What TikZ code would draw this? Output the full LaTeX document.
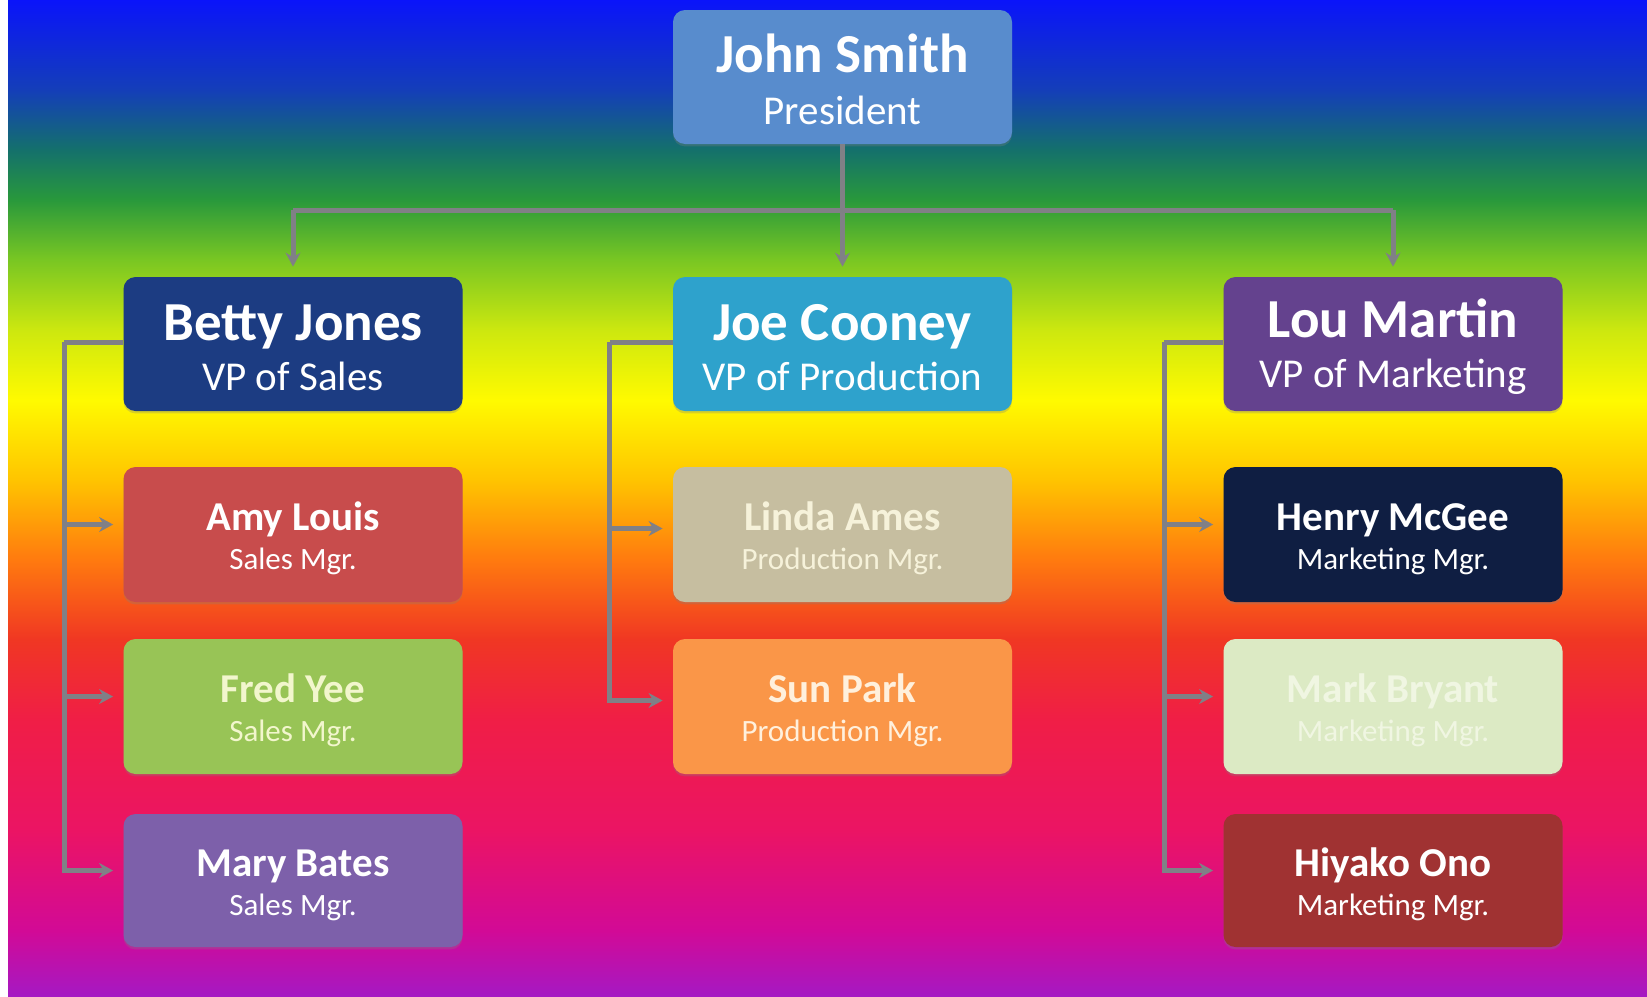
\documentclass[tikz,border=0pt]{standalone}
\usepackage{fontspec}
\setmainfont{Carlito}
\usetikzlibrary{calc,positioning,arrows.meta,shadows}

% background colours, top to bottom
\definecolor{bgblue}{RGB}{10,20,250}
\definecolor{bgnavy}{RGB}{20,62,185}
\definecolor{bgteal}{RGB}{20,112,108}
\definecolor{bggreen}{RGB}{40,152,60}
\definecolor{bglime}{RGB}{120,198,35}
\definecolor{bgyelgreen}{RGB}{205,232,15}
\definecolor{bgyellow}{RGB}{255,250,0}
\definecolor{bggold}{RGB}{255,196,0}
\definecolor{bgorange}{RGB}{255,122,15}
\definecolor{bgred}{RGB}{240,55,35}
\definecolor{bgrose}{RGB}{240,30,70}
\definecolor{bgpink}{RGB}{235,20,100}
\definecolor{bgmagenta}{RGB}{210,10,150}
\definecolor{bgpurple}{RGB}{165,25,195}

% box colours
\definecolor{presblue}{RGB}{88,140,205}
\definecolor{salesblue}{RGB}{28,60,130}
\definecolor{prodcyan}{RGB}{46,162,204}
\definecolor{mktpurple}{RGB}{100,66,142}
\definecolor{amyred}{RGB}{200,76,76}
\definecolor{fredgreen}{RGB}{152,196,86}
\definecolor{maryviolet}{RGB}{125,96,170}
\definecolor{lindabeige}{RGB}{198,190,160}
\definecolor{sunorange}{RGB}{250,150,72}
\definecolor{henrynavy}{RGB}{15,30,66}
\definecolor{palegreen}{RGB}{220,234,196}
\definecolor{hiyakored}{RGB}{160,50,50}
\definecolor{linkgray}{RGB}{128,128,134}

\pgfdeclareverticalshading{rainbowbg}{100bp}{color(0bp)=(bgpurple); color(25bp)=(bgpurple); color(28.3bp)=(bgmagenta); color(33.3bp)=(bgpink); color(38.9bp)=(bgrose); color(42.9bp)=(bgred); color(46.9bp)=(bgorange); color(50.9bp)=(bggold); color(54.9bp)=(bgyellow); color(58.4bp)=(bgyelgreen); color(62bp)=(bglime); color(65bp)=(bggreen); color(67.5bp)=(bgteal); color(70.5bp)=(bgnavy); color(75bp)=(bgblue); color(100bp)=(bgblue)}

\newcommand{\vpname}[1]{\rule{0pt}{22pt}#1}
\newcommand{\mgrname}[1]{\rule{0pt}{18.2pt}#1}
\newcommand{\vptitle}[1]{{\fontsize{20.5}{24}\mdseries\selectfont #1}}
\newcommand{\mgrtitle}[1]{{\fontsize{15.5}{18}\mdseries\selectfont #1}}

\tikzset{orgbox/.style={rectangle,rounded corners=6pt,minimum width=169.5pt,
minimum height=67pt,inner sep=0pt,align=center,text=white,
drop shadow={shadow xshift=0pt,shadow yshift=-1.2pt,opacity=0.3}},
vpbox/.style={orgbox,font=\fontsize{27.5}{25}\bfseries\selectfont},
mgrbox/.style={orgbox,minimum height=67.5pt,font=\fontsize{20.5}{19.3}\bfseries\selectfont}}
\tikzstyle{conn}      = [draw=linkgray,line width=2.5pt]
\tikzstyle{arrow}     = [-{Stealth[length=7pt,width=7.5pt]},shorten >=5pt]

\begin{document}
\begin{tikzpicture}[x=0.5pt,y=-0.5pt]
		\useasboundingbox (0,0) rectangle (1647,996);
		\fill[white] (0,0) rectangle (1647,996);
		\shade[shading=rainbowbg] (8,0) rectangle (1647,996);

		% top and vice presidents
		\node[vpbox,fill=presblue,font=\fontsize{27.5}{26}\bfseries\selectfont] (john) at (842.5,77) {\vpname{John Smith}\\\vptitle{President}};
		\node[vpbox,fill=salesblue] (betty) at (293,344) {\vpname{Betty Jones}\\\vptitle{VP of Sales}};
		\node[vpbox,fill=prodcyan] (joe) at (842.5,344) {\vpname{Joe Cooney}\\\vptitle{VP of Production}};
		\node[vpbox,fill=mktpurple] (lou) at (1393,344) {\vpname{Lou Martin}\\\vptitle{VP of Marketing}};

		% managers
		\node[mgrbox,fill=amyred] (amy) at (293,534.5) {\mgrname{Amy Louis}\\\mgrtitle{Sales Mgr.}};
		\node[mgrbox,fill=fredgreen,text={rgb,255:red,242;green,246;blue,205}] (fred) at (293,706.5) {\mgrname{Fred Yee}\\\mgrtitle{Sales Mgr.}};
		\node[mgrbox,fill=maryviolet,minimum height=66.5pt] (mary) at (293,880.5) {\mgrname{Mary Bates}\\\mgrtitle{Sales Mgr.}};
		\node[mgrbox,fill=lindabeige,text={rgb,255:red,246;green,242;blue,218}] (linda) at (842.5,534.5) {\mgrname{Linda Ames}\\\mgrtitle{Production Mgr.}};
		\node[mgrbox,fill=sunorange,text={rgb,255:red,255;green,240;blue,220}] (sun) at (842.5,706.5) {\mgrname{Sun Park}\\\mgrtitle{Production Mgr.}};
		\node[mgrbox,fill=henrynavy] (henry) at (1393,534.5) {\mgrname{Henry McGee}\\\mgrtitle{Marketing Mgr.}};
		\node[mgrbox,fill=palegreen,text={rgb,255:red,240;green,246;blue,226}] (mark) at (1393,706.5) {\mgrname{Mark Bryant}\\\mgrtitle{Marketing Mgr.}};
		\node[mgrbox,fill=hiyakored,minimum height=66.5pt] (hiyako) at (1393,880.5) {\mgrname{Hiyako Ono}\\\mgrtitle{Marketing Mgr.}};

		% connectors from the president
		\coordinate (hub) at (842.5,210);
		\draw[conn] (john.south) -- (hub);
		\draw[conn] (betty |- hub) -- (lou |- hub);
		\foreach \vp in {betty,joe,lou}
			\draw[conn,arrow] (\vp |- hub) -- (\vp);

		% buses down each column
		\coordinate (salesbus) at ($(betty.west)+(-59,-2)$);
		\coordinate (prodbus) at ($(joe.west)+(-63,-2)$);
		\coordinate (mktbus) at ($(lou.west)+(-59,-2)$);
		\draw[conn] ($(betty.west)+(0,-2)$) -- (salesbus);
		\draw[conn] ($(joe.west)+(0,-2)$) -- (prodbus);
		\draw[conn] ($(lou.west)+(0,-2)$) -- (mktbus);
		\foreach \mgr in {amy,fred,mary}
			\draw[conn,arrow] (salesbus) |- ($(\mgr.west)+(0,-10)$);
		\foreach \mgr in {linda,sun}
			\draw[conn,arrow] (prodbus) |- ($(\mgr.west)+(0,-6)$);
		\foreach \mgr in {henry,mark,hiyako}
			\draw[conn,arrow] (mktbus) |- ($(\mgr.west)+(0,-10)$);
	\end{tikzpicture}
\end{document}
